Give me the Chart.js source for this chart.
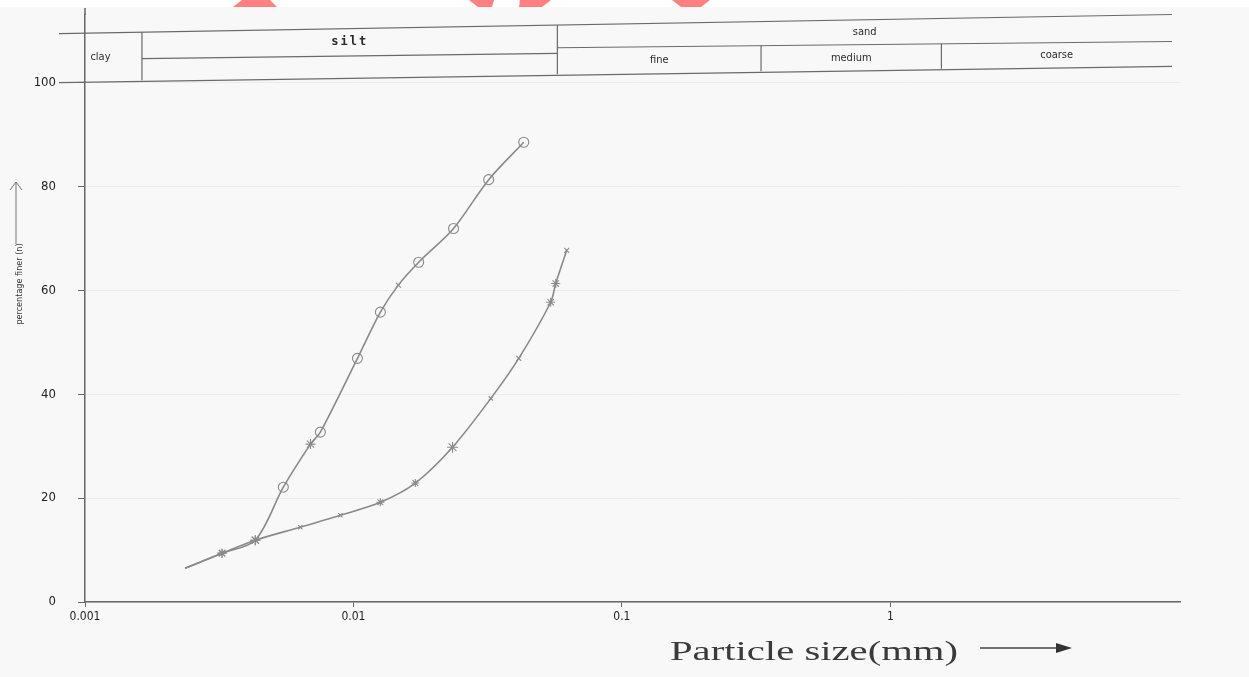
<!DOCTYPE html>
<html>
<head>
<meta charset="utf-8">
<title>Particle size distribution</title>
<script src="https://cdn.jsdelivr.net/npm/chart.js@4.4.1/dist/chart.umd.min.js"></script>
<style>
  html, body { margin: 0; padding: 0; background: #f8f8f8; }
  canvas { display: block; }
</style>
</head>
<body>
<canvas id="chart" width="1249" height="677"></canvas>
<script>
// particle size (mm) vs percentage finer
const sizesA   = [0.00236, 0.00324, 0.00431, 0.00548, 0.00692, 0.00753, 0.01035, 0.0126, 0.0147, 0.0175, 0.0236, 0.0319, 0.0431];
const finerA   = [6.5, 9.4, 11.9, 22.1, 30.4, 32.7, 46.9, 55.8, 61.0, 65.4, 71.9, 81.3, 88.5];
const markersA = ['circle', 'star', 'star', 'circle', 'star', 'circle', 'circle', 'circle', 'crossRot', 'circle', 'circle', 'circle', 'circle'];
const radiiA   = [0, 4.5, 5, 5, 5, 5, 5, 5, 3.5, 5, 5, 5, 5];

const sizesB   = [0.00236, 0.00324, 0.00431, 0.00634, 0.00894, 0.0126, 0.0170, 0.0234, 0.0325, 0.0413, 0.0543, 0.0567, 0.0623];
const finerB   = [6.5, 9.4, 11.9, 14.4, 16.7, 19.2, 22.9, 29.8, 39.2, 46.9, 57.7, 61.3, 67.7];
const markersB = ['star', 'star', 'star', 'crossRot', 'crossRot', 'star', 'star', 'star', 'crossRot', 'crossRot', 'star', 'star', 'crossRot'];
const radiiB   = [0, 4.5, 5, 3, 3, 4, 4, 5.5, 3, 3.5, 4.5, 4.5, 3.5];

const xTicks      = [0.001, 0.01, 0.1, 1];
const xTickLabels = ['0.001', '0.01', '0.1', '1'];
const yTicks      = [0, 20, 40, 60, 80, 100];

// soil classification band above the plot
const classEdges = [0.00163, 0.0575, 0.33, 1.55];
const tableEnds  = [0.0008, 11.2];

const penColor = '#8a8a8a';

function pts(xs, ys) {
  return xs.map((x, i) => ({ x: x, y: ys[i] }));
}

const paper = {
  id: 'paper',
  beforeDraw(chart) {
    const ctx = chart.ctx;
    ctx.save();
    ctx.fillStyle = '#f8f8f8';
    ctx.fillRect(0, 0, chart.width, chart.height);
    ctx.fillStyle = '#ffffff';
    ctx.fillRect(0, 0, chart.width, 7);
    ctx.fillStyle = '#ff8080';
    const frags = [
      [[242, 0], [270, 0], [277, 7], [233, 7]],
      [[469, 0], [494, 0], [492, 7], [478, 7]],
      [[520, 0], [551, 0], [542, 7], [519, 7]],
      [[672, 0], [710, 0], [701, 7], [681, 7]]
    ];
    frags.forEach(f => {
      ctx.beginPath();
      ctx.moveTo(f[0][0], f[0][1]);
      f.slice(1).forEach(p => ctx.lineTo(p[0], p[1]));
      ctx.closePath();
      ctx.fill();
    });
    ctx.restore();
  }
};

const annotations = {
  id: 'annotations',
  afterDraw(chart) {
    const { ctx } = chart;
    const xs = chart.scales.x, ys = chart.scales.y;
    const px = v => xs.getPixelForValue(v);
    const py = v => ys.getPixelForValue(v);

    // row lines of the classification band, as [x0, y0, x1, y1] in data units
    const top     = [tableEnds[0], 109.4, tableEnds[1], 113.1];
    const base    = [tableEnds[0], 100, tableEnds[1], 103.1];
    const siltMid = [classEdges[0], 104.6, classEdges[1], 105.6];
    const sandMid = [classEdges[1], 106.7, tableEnds[1], 107.9];
    const yAt = (ln, v) => {
      const x0 = px(ln[0]), x1 = px(ln[2]), y0 = py(ln[1]), y1 = py(ln[3]);
      return y0 + (px(v) - x0) / (x1 - x0) * (y1 - y0);
    };

    ctx.save();
    ctx.strokeStyle = '#6a6a6a';
    ctx.lineWidth = 1.2;
    [top, base, siltMid, sandMid].forEach(ln => {
      ctx.beginPath();
      ctx.moveTo(px(ln[0]), py(ln[1]));
      ctx.lineTo(px(ln[2]), py(ln[3]));
      ctx.stroke();
    });
    [[classEdges[0], top], [classEdges[1], top], [classEdges[2], sandMid], [classEdges[3], sandMid]].forEach(([v, ln]) => {
      ctx.beginPath();
      ctx.moveTo(px(v), yAt(ln, v));
      ctx.lineTo(px(v), yAt(base, v) - 1);
      ctx.stroke();
    });

    // y axis continues up past the band
    ctx.strokeStyle = '#666';
    ctx.lineWidth = 1.5;
    ctx.beginPath();
    ctx.moveTo(px(0.001), chart.chartArea.top);
    ctx.lineTo(px(0.001), 8);
    ctx.stroke();

    ctx.fillStyle = '#2a2a2a';
    ctx.textAlign = 'center';
    ctx.textBaseline = 'middle';
    const label = (text, a, b, upper, lower, font, spacing) => {
      const cx = (px(a) + px(b)) / 2;
      const mid = Math.sqrt(a * b);
      const cy = (yAt(upper, mid) + yAt(lower, mid)) / 2;
      ctx.font = font;
      ctx.letterSpacing = spacing || '0px';
      ctx.fillText(text, cx, cy);
    };
    const small = '11px "DejaVu Sans Condensed", "DejaVu Sans", sans-serif';
    label('clay', tableEnds[0], classEdges[0], top, base, small);
    label('silt', classEdges[0], classEdges[1], top, siltMid, 'bold 12px "DejaVu Sans Mono", monospace', '2px');
    label('sand', classEdges[1], tableEnds[1], top, sandMid, small);
    label('fine', classEdges[1], classEdges[2], sandMid, base, small);
    label('medium', classEdges[2], classEdges[3], sandMid, base, small);
    label('coarse', classEdges[3], tableEnds[1], sandMid, base, small);
    ctx.letterSpacing = '0px';

    // y title with upward arrow
    ctx.save();
    ctx.translate(20, 284);
    ctx.rotate(-Math.PI / 2);
    ctx.font = '9px "DejaVu Sans Condensed", "DejaVu Sans", sans-serif';
    ctx.fillStyle = '#333';
    ctx.fillText('percentage finer (n)', 0, 0);
    ctx.restore();
    ctx.strokeStyle = '#777';
    ctx.lineWidth = 1;
    ctx.beginPath();
    ctx.moveTo(16, 244); ctx.lineTo(16, 182);
    ctx.moveTo(10, 190); ctx.lineTo(16, 182); ctx.lineTo(22, 190);
    ctx.stroke();

    // x title with arrow
    ctx.font = '28px "Liberation Serif", "Times New Roman", serif';
    const w = ctx.measureText('Particle size(mm)').width;
    ctx.save();
    ctx.translate(670, 653);
    ctx.scale(288 / w, 1);
    ctx.textAlign = 'left';
    ctx.fillStyle = '#3a3a3a';
    ctx.fillText('Particle size(mm)', 0, 0);
    ctx.restore();
    ctx.strokeStyle = '#444';
    ctx.lineWidth = 1.3;
    ctx.beginPath();
    ctx.moveTo(980, 648); ctx.lineTo(1058, 648);
    ctx.stroke();
    ctx.fillStyle = '#333';
    ctx.beginPath();
    ctx.moveTo(1056, 643); ctx.lineTo(1072, 648); ctx.lineTo(1056, 653);
    ctx.closePath();
    ctx.fill();
    ctx.restore();
  }
};

const ds = (xs, ys, markers, radii) => ({
  data: pts(xs, ys),
  borderColor: penColor,
  borderWidth: 1.6,
  tension: 0.3,
  fill: false,
  pointStyle: markers,
  pointRadius: radii,
  pointBorderColor: penColor,
  pointBackgroundColor: 'rgba(0,0,0,0)',
  pointBorderWidth: 1.1
});

const tickFamily = '"DejaVu Sans Condensed", "DejaVu Sans", sans-serif';

new Chart(document.getElementById('chart').getContext('2d'), {
  type: 'line',
  data: {
    datasets: [
      ds(sizesA, finerA, markersA, radiiA),
      ds(sizesB, finerB, markersB, radiiB)
    ]
  },
  options: {
    responsive: false,
    animation: false,
    layout: { padding: { left: 0, top: 15, right: 69, bottom: 0 } },
    plugins: {
      legend: { display: false },
      tooltip: { enabled: false }
    },
    scales: {
      x: {
        type: 'logarithmic',
        min: 0.001,
        max: 12,
        afterBuildTicks: s => { s.ticks = xTicks.map(v => ({ value: v })); },
        afterFit: s => { s.height = 75; s.paddingLeft = 0; s.paddingRight = 0; },
        ticks: {
          autoSkip: false,
          maxRotation: 0,
          padding: 3,
          color: '#222',
          font: { family: tickFamily, size: 12 },
          callback: (v, i) => xTickLabels[i]
        },
        grid: { color: 'rgba(0,0,0,0)', tickColor: '#666', tickLength: 5 },
        border: { color: '#666', width: 1.5 }
      },
      y: {
        min: 0,
        max: 113,
        afterBuildTicks: s => { s.ticks = yTicks.map(v => ({ value: v })); },
        afterFit: s => { s.width = 85; s.paddingTop = 0; s.paddingBottom = 0; },
        ticks: {
          autoSkip: false,
          padding: 22,
          color: '#222',
          font: { family: tickFamily, size: 13 }
        },
        grid: { color: 'rgba(0,0,0,0.05)', tickColor: '#666', tickLength: 7 },
        border: { color: '#666', width: 1.5 }
      }
    }
  },
  plugins: [paper, annotations]
});
</script>
</body>
</html>
